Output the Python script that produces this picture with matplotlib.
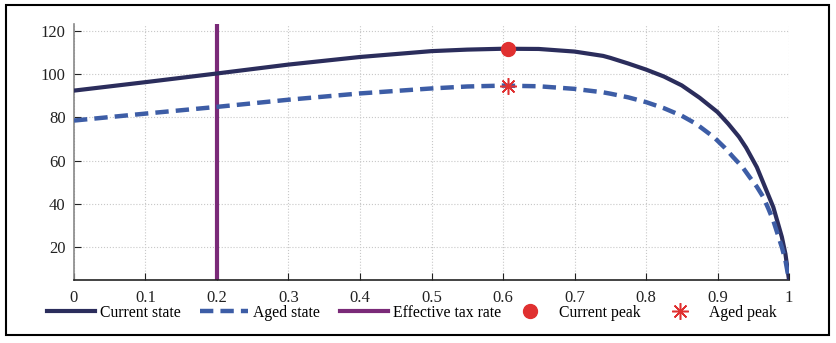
import numpy as np
import matplotlib.pyplot as plt
from matplotlib.patches import Rectangle
from matplotlib.legend_handler import HandlerLine2D

plt.rcParams['font.family'] = ['Liberation Serif', 'DejaVu Serif']

# Revenue curves against tax rate
current_x = [0, 0.1, 0.2, 0.3, 0.4, 0.5, 0.55, 0.6, 0.65, 0.7, 0.74, 0.75, 0.775, 0.8,
             0.825, 0.85, 0.875, 0.9, 0.915, 0.93, 0.94, 0.955, 0.978, 0.99, 0.995, 1.0]
current_state = [92.3, 96.2, 100.2, 104.3, 107.8, 110.5, 111.2, 111.6, 111.5, 110.3, 108.3,
                 107.4, 104.8, 102.0, 98.8, 94.7, 89, 82.4, 77, 71, 66, 57, 38.6, 24.8, 17, 5]

aged_x = [0, 0.1, 0.2, 0.3, 0.4, 0.5, 0.55, 0.6, 0.65, 0.7, 0.74, 0.75, 0.775, 0.8,
          0.825, 0.85, 0.87, 0.895, 0.91, 0.922, 0.935, 0.945, 0.955, 0.964, 0.971,
          0.978, 0.99, 0.995, 1.0]
aged_state = [78.5, 81.7, 84.8, 88.1, 91, 93.3, 94.2, 94.6, 94.3, 93.1, 91.5, 90.9, 89.2,
              87, 84.2, 80.7, 77, 70.8, 66, 61.6, 57, 52.4, 48, 43.2, 38, 32.4, 20.1, 14, 5]

effective_rate = 0.2
peak_rate = 0.607
current_peak = 111.6
aged_peak = 94.6

xticks = np.round(np.arange(0, 1.01, 0.1), 1)
xtick_labels = ['0', '0.1', '0.2', '0.3', '0.4', '0.5', '0.6', '0.7', '0.8', '0.9', '1']
yticks = [20, 40, 60, 80, 100, 120]

navy = '#2b2d5c'
blue = '#3d5da6'
purple = '#7a2a78'
red = '#e03030'


class MarkerRight(HandlerLine2D):
    # put the single legend marker near the text instead of mid-handle
    def get_xdata(self, legend, xdescent, ydescent, width, height, fontsize):
        xdata, _ = super().get_xdata(legend, xdescent, ydescent, width, height, fontsize)
        return xdata, [-xdescent + 0.78 * width]


fig = plt.figure(figsize=(8.36, 3.43), dpi=100)
ax = fig.add_axes([0.0885, 0.1837, 0.8553, 0.7463])

l1, = ax.plot(current_x, current_state, color=navy, lw=3, label='Current state', zorder=3,
              solid_joinstyle='round')
l2, = ax.plot(aged_x, aged_state, color=blue, lw=3.2, ls=(0, (3.0, 1.6)), label='Aged state',
              zorder=3)
l3 = ax.axvline(effective_rate, color=purple, lw=3, label='Effective tax rate', zorder=2)
p1, = ax.plot([peak_rate], [current_peak], ls='none', marker='o', color=red, ms=10,
              label='Current peak', zorder=4)
p2, = ax.plot([peak_rate], [aged_peak], ls='none', color=red, ms=12, label='Aged peak',
              zorder=4, marker=(8, 2, 0), mew=1.1)

ax.set_xlim(0, 1)
ax.set_ylim(5, 123)
ax.set_xticks(xticks)
ax.set_xticklabels(xtick_labels)
ax.set_yticks(yticks)
ax.grid(True, ls=':', color='#c8c8c8', lw=0.8)
ax.set_axisbelow(True)
for s in ['top', 'right']:
    ax.spines[s].set_visible(False)
ax.spines['left'].set_color('#888888')
ax.spines['bottom'].set_color('#222222')
ax.spines['left'].set_linewidth(1.2)
ax.spines['bottom'].set_linewidth(1.2)
ax.tick_params(direction='in', length=5, labelsize=12, colors='#222222')
ax.tick_params(axis='x', pad=7)
ax.tick_params(axis='y', pad=6)

leg_kw = dict(loc='center left', frameon=False, fontsize=11.3, handlelength=3.05,
              handletextpad=0.32, borderaxespad=0, borderpad=0)
leg1 = ax.legend(handles=[l1, l2, l3], ncol=3, columnspacing=1.27,
                 bbox_to_anchor=(-0.038, -0.128), **leg_kw)
ax.add_artist(leg1)
ax.legend(handles=[p1, p2], ncol=2, columnspacing=1.0,
          bbox_to_anchor=(0.604, -0.128),
          handler_map={p1: MarkerRight(), p2: MarkerRight()}, **leg_kw)

# outer frame around the figure
fig.patches.append(Rectangle((6 / 836, 8 / 343), 823 / 836, 330 / 343,
                             transform=fig.transFigure, fill=False, ec='black', lw=1.5))

plt.savefig('out.png', dpi=100)
